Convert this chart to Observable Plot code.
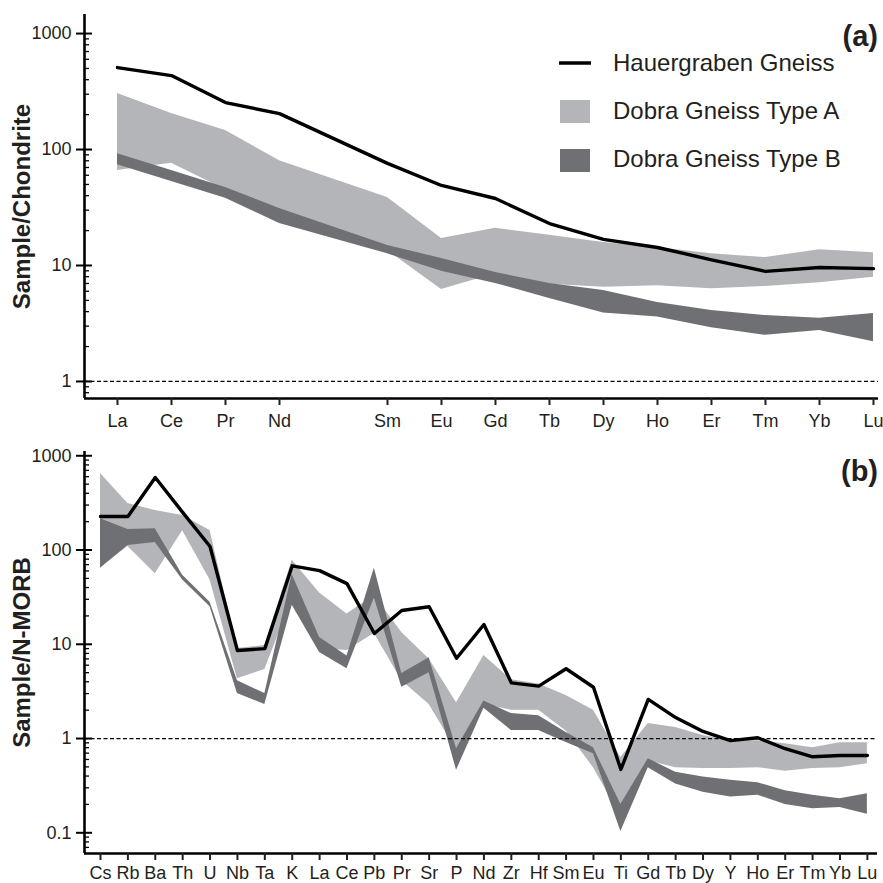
<!DOCTYPE html>
<html><head><meta charset="utf-8">
<script src="https://cdn.jsdelivr.net/npm/d3@7"></script>
<script src="https://cdn.jsdelivr.net/npm/@observablehq/plot@0.6"></script>
<style>
html,body{margin:0;padding:0;background:#fff;}
#chart{position:relative;width:883px;height:883px;}
#chart > svg{display:block;}
#overlay{position:absolute;left:0;top:0;}
</style></head><body><div id="chart"></div>
<script>
// ---------- DATA ----------
// (a) chondrite-normalised REE (Pm not analysed -> null, keeps its gap)
const reeElements = ["La","Ce","Pr","Nd","Pm","Sm","Eu","Gd","Tb","Dy","Ho","Er","Tm","Yb","Lu"];
const reeHauergraben = [509, 434, 254, 204, null, 76, 49, 37.8, 23, 16.8, 14.3, 11.2, 8.9, 9.6, 9.4];
const reeTypeAHigh   = [304, 204, 146, 80, null, 38.6, 17.1, 20.9, 18.2, 15.8, 14.3, 12.6, 11.7, 13.7, 12.9];
const reeTypeALow    = [66, 76, 45, 27, null, 13.5, 6.2, 8.5, 6.9, 6.5, 6.7, 6.3, 6.6, 7.1, 7.9];
const reeTypeBHigh   = [92, 66, 47, 31, null, 14.9, 11.5, 8.7, 7.0, 6.1, 4.8, 4.1, 3.7, 3.5, 3.85];
const reeTypeBLow    = [74, 53, 38, 23, null, 12.6, 8.9, 7.0, 5.2, 3.9, 3.6, 2.9, 2.5, 2.75, 2.2];

// (b) N-MORB-normalised multi-element
const morbElements = ["Cs","Rb","Ba","Th","U","Nb","Ta","K","La","Ce","Pb","Pr","Sr","P","Nd","Zr","Hf","Sm","Eu","Ti","Gd","Tb","Dy","Y","Ho","Er","Tm","Yb","Lu"];
const morbHauergraben = [227, 227, 588, 251, 109, 8.6, 9.0, 68, 60.5, 44, 13, 22.8, 25, 7.1, 16.2, 3.9, 3.6, 5.5, 3.5, 0.47, 2.6, 1.67, 1.19, 0.95, 1.02, 0.78, 0.64, 0.66, 0.66];
const morbTypeAHigh   = [647, 311, 263, 232, 161, 9.0, 9.7, 78, 35, 21, 33, 13.3, 7.0, 2.4, 7.6, 4.2, 3.8, 2.86, 2.0, 0.63, 1.44, 1.31, 1.08, 0.95, 0.95, 0.88, 0.8, 0.9, 0.9];
const morbTypeALow    = [65, 109, 56, 160, 48, 4.3, 5.4, 30, 9, 8.6, 13, 4.1, 2.3, 0.75, 2.3, 2.0, 2.0, 1.2, 0.49, 0.15, 0.58, 0.49, 0.48, 0.48, 0.49, 0.45, 0.48, 0.49, 0.54];
const morbTypeBHigh   = [215, 165, 168, 54, 28, 4.1, 3.0, 55, 11.8, 7.5, 64, 4.9, 7.2, 0.78, 2.5, 1.84, 1.75, 1.16, 0.80, 0.2, 0.61, 0.44, 0.39, 0.36, 0.34, 0.28, 0.25, 0.23, 0.26];
const morbTypeBLow    = [64, 112, 120, 48, 25, 3.0, 2.3, 26, 8.2, 5.5, 31, 3.5, 5.0, 0.46, 2.1, 1.22, 1.22, 0.91, 0.69, 0.103, 0.49, 0.33, 0.27, 0.24, 0.25, 0.2, 0.18, 0.185, 0.157];

const seriesNames = ["Hauergraben Gneiss", "Dobra Gneiss Type A", "Dobra Gneiss Type B"];
const panelTags = ["(a)", "(b)"];
const yTitles = ["Sample/Chondrite", "Sample/N-MORB"];
const reeMajorTicks = [1, 10, 100, 1000];
const morbMajorTicks = [0.1, 1, 10, 100, 1000];
const referenceLevel = [1];

// ---------- STYLE ----------
const FONT = '"Liberation Sans", Arial, Helvetica, sans-serif';
const LIGHT = "#b4b5b8";
const DARK = "#6f7074";
const INK = "#231f20";
const W = 883, ML = 84;

function panel({cats, ha, aHi, aLo, bHi, bLo, yDomain, xDomain, height, marginTop, marginBottom, marginRight, yLabel, majors, xPad}) {
  const rows = cats.map((c, i) => ({i, c, ha: ha[i], aHi: aHi[i], aLo: aLo[i], bHi: bHi[i], bLo: bLo[i]}))
                   .filter(d => d.ha != null);
  const tickIdx = rows.map(d => d.i);
  const frameW = W - ML - marginRight;
  const minors = [];
  for (let e = -2; e <= 3; e++) for (let m = 2; m <= 9; m++) {
    const v = +(m * Math.pow(10, e)).toPrecision(3);
    if (v >= yDomain[0] && v <= yDomain[1]) minors.push(v);
  }
  return Plot.plot({
    width: W, height, marginLeft: ML, marginRight, marginTop, marginBottom,
    style: {fontFamily: FONT, fontSize: "18px", color: INK, background: "white", overflow: "visible"},
    x: {domain: xDomain},
    y: {type: "log", domain: yDomain},
    marks: [
      Plot.areaY(rows, {x: "i", y1: "aLo", y2: "aHi", fill: LIGHT}),
      Plot.areaY(rows, {x: "i", y1: "bLo", y2: "bHi", fill: DARK}),
      Plot.ruleY(referenceLevel, {stroke: "#000", strokeWidth: 1.3, strokeDasharray: "4,2.5"}),
      Plot.lineY(rows, {x: "i", y: "ha", stroke: "#000", strokeWidth: 3.4}),
      Plot.ruleX([xDomain[0]], {stroke: "#000", strokeWidth: 2.6}),
      Plot.ruleY([yDomain[0]], {stroke: "#000", strokeWidth: 2.6}),
      Plot.ruleY(minors, {insetRight: frameW - 5, stroke: "#000", strokeWidth: 1.3}),
      Plot.ruleY(majors, {insetLeft: -8, insetRight: frameW - 8, stroke: "#000", strokeWidth: 2}),
      Plot.axisY({ticks: majors, tickSize: 0, tickPadding: 13, tickFormat: d => String(d), label: null, fontSize: 18}),
      Plot.axisX({ticks: tickIdx, tickFormat: i => cats[i], tickSize: 7, tickPadding: xPad, label: null, fontSize: 18, strokeWidth: 2}),
      Plot.text([yLabel], {text: d => d, frameAnchor: "left", textAnchor: "middle", lineAnchor: "middle", rotate: -90, dx: -62, fontWeight: "bold", fontSize: 24})
    ]
  });
}

const topPanel = panel({
  cats: reeElements, ha: reeHauergraben, aHi: reeTypeAHigh, aLo: reeTypeALow, bHi: reeTypeBHigh, bLo: reeTypeBLow,
  yDomain: [0.713, 1460], xDomain: [-0.611, 14.093], height: 440, marginTop: 14, marginBottom: 42, marginRight: 5,
  yLabel: yTitles[0], majors: reeMajorTicks, xPad: 9
});
const bottomPanel = panel({
  cats: morbElements, ha: morbHauergraben, aHi: morbTypeAHigh, aLo: morbTypeALow, bHi: morbTypeBHigh, bLo: morbTypeBLow,
  yDomain: [0.0603, 1110], xDomain: [-0.584, 28.37], height: 443, marginTop: 11, marginBottom: 30, marginRight: 6,
  yLabel: yTitles[1], majors: morbMajorTicks, xPad: 6
});

const chart = document.getElementById("chart");
chart.appendChild(topPanel);
chart.appendChild(bottomPanel);

// ---------- overlay: legend + panel tags ----------
const ov = d3.select(chart).append("svg").attr("id", "overlay")
  .attr("width", W).attr("height", W)
  .style("font-family", FONT).style("fill", INK);

const lg = ov.append("g");
lg.append("line").attr("x1", 559).attr("x2", 591).attr("y1", 63).attr("y2", 63)
  .attr("stroke", "#000").attr("stroke-width", 3.5);
lg.append("rect").attr("x", 560).attr("y", 100).attr("width", 30).attr("height", 23).attr("fill", LIGHT);
lg.append("rect").attr("x", 560).attr("y", 149).attr("width", 30).attr("height", 23).attr("fill", DARK);
const legY = [71, 119, 167];
seriesNames.forEach((s, k) => {
  lg.append("text").attr("x", 613).attr("y", legY[k]).attr("font-size", 24).text(s);
});
const tagY = [46, 481];
panelTags.forEach((t, k) => {
  ov.append("text").attr("x", 878).attr("y", tagY[k]).attr("text-anchor", "end")
    .attr("font-size", 29).attr("font-weight", "bold").text(t);
});
</script>
</body></html>
